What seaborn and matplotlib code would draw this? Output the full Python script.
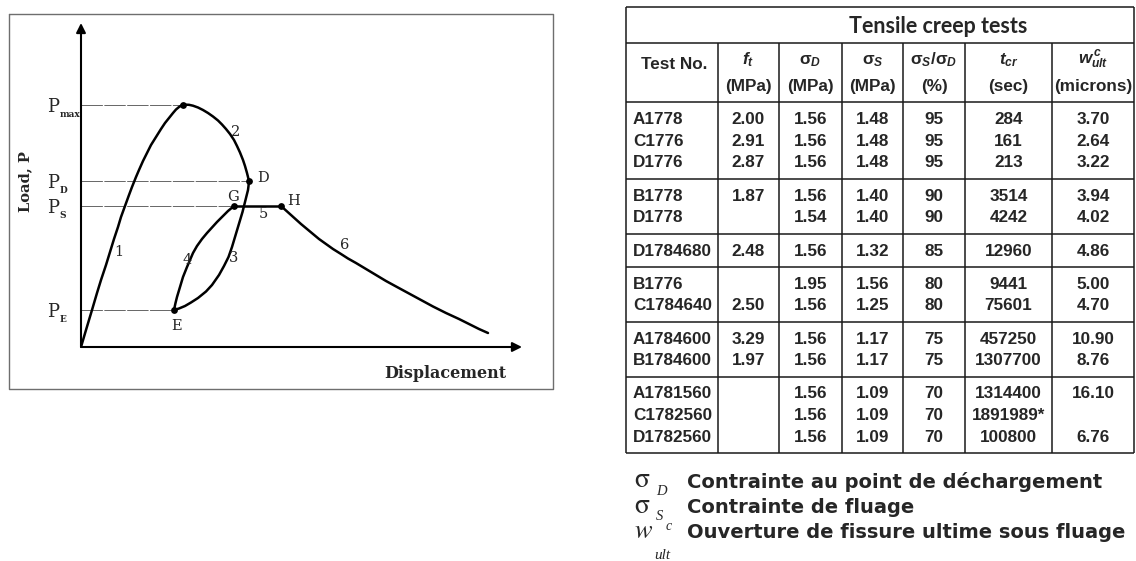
import matplotlib
matplotlib.use("Agg")
import matplotlib.pyplot as plt
import pandas as pd
import seaborn as sns

# ---------------- load-displacement schematic (arbitrary units) ----------------
# 1: loading up to the peak
seg1_x = [0, 5, 11, 16, 20, 25, 29, 33, 37, 40, 44, 48, 51, 55, 58, 62, 66, 70, 75,
          80, 84, 88, 92, 95, 98, 100, 102]
seg1_y = [0, 17, 37, 54, 67, 82, 95, 108, 120, 130, 141, 152, 160, 170, 177, 186, 194,
          202, 210, 218, 224, 229, 234, 237.5, 240, 241.3, 242]
# 2: post-peak softening down to D
seg2_x = [102, 105, 108, 112, 117, 122, 127, 132, 137, 141, 145, 149, 153, 156, 159,
          162, 164, 166, 167, 168]
seg2_y = [242, 242.3, 242.2, 241.3, 239.5, 237, 234, 230.5, 226.5, 222.5, 218, 213, 207,
          201, 194.5, 187, 181, 174, 170, 166]
# 3: unloading D -> E
seg3_x = [168, 167.5, 167, 166, 165, 164, 163, 161.5, 160, 158.5, 157, 154, 151, 147.5,
          143, 138, 131, 125, 117, 110, 104, 98, 93]
seg3_y = [166, 161, 157, 153, 149, 145, 141, 135, 130, 125, 120, 110, 100, 90, 81, 72,
          62, 55.5, 49, 44.5, 41, 38.5, 37]
# 4: reloading E -> G
seg4_x = [93, 94.5, 96, 99, 102, 106, 109, 112, 116, 121, 126, 131, 136, 141, 147, 153]
seg4_y = [37, 44, 50, 60, 70, 80, 87, 94, 101, 108, 114, 119.5, 125, 130, 136, 141]
# 5: creep at constant load G -> H
seg5_x = [153, 200]
seg5_y = [141, 141]
# 6: failure branch after H
seg6_x = [200, 205, 210, 215, 220, 226, 232, 238, 245, 252, 260, 267, 275, 285, 295,
          305, 316, 328, 340, 352, 365, 378, 390, 398, 407]
seg6_y = [141, 136.5, 132, 127.5, 123, 118, 113, 108, 103, 98, 93, 88.5, 84, 78, 72,
          66, 60, 53.5, 47, 40.5, 34, 28, 22, 18, 14]

# remarkable points: P_max, D, G, H, E
point_x = [102, 168, 153, 200, 93]
point_y = [242, 166, 141, 141, 37]
load_subs = ["max", "D", "S", "E"]
load_levels = [242, 166, 141, 37]
load_line_end = [102, 168, 153, 93]

# ---------------- tensile creep test table ----------------
test_no = ["A1778", "C1776", "D1776", "B1778", "D1778", "D1784680", "B1776",
           "C1784640", "A1784600", "B1784600", "A1781560", "C1782560", "D1782560"]
f_t = ["2.00", "2.91", "2.87", "1.87", "", "2.48", "", "2.50", "3.29", "1.97", "", "", ""]
sigma_d = ["1.56", "1.56", "1.56", "1.56", "1.54", "1.56", "1.95", "1.56", "1.56",
           "1.56", "1.56", "1.56", "1.56"]
sigma_s = ["1.48", "1.48", "1.48", "1.40", "1.40", "1.32", "1.56", "1.25", "1.17",
           "1.17", "1.09", "1.09", "1.09"]
ratio_pct = ["95", "95", "95", "90", "90", "85", "80", "80", "75", "75", "70", "70", "70"]
t_cr = ["284", "161", "213", "3514", "4242", "12960", "9441", "75601", "457250",
        "1307700", "1314400", "1891989*", "100800"]
w_ult = ["3.70", "2.64", "3.22", "3.94", "4.02", "4.86", "5.00", "4.70", "10.90",
         "8.76", "16.10", "", "6.76"]
group_sizes = [3, 2, 1, 2, 2, 3]

table_title = "Tensile creep tests"
header_top = ["Test No.", r"$f_t$", r"σ$_D$", r"σ$_S$", r"σ$_S$/σ$_D$", r"$t_{cr}$",
              r"$w^{\,c}_{ult}$"]
header_units = ["", "(MPa)", "(MPa)", "(MPa)", "(%)", "(sec)", "(microns)"]

legend_syms = [r"$\mathrm{\sigma}$", r"$\mathrm{\sigma}$", r"$w$"]
legend_subs = ["D", "S", "ult"]
legend_text = ["Contrainte au point de déchargement", "Contrainte de fluage",
               "Ouverture de fissure ultime sous fluage"]

# ---------------- styling ----------------
sns.set_style("white")
plt.rcParams["font.family"] = ["DejaVu Serif"]
plt.rcParams["mathtext.fontset"] = "custom"
plt.rcParams["mathtext.rm"] = "Liberation Sans:bold"
plt.rcParams["mathtext.bf"] = "Liberation Sans:bold"
plt.rcParams["mathtext.it"] = "Liberation Sans:italic:bold"

W, H = 1136, 561
fig = plt.figure(figsize=(W / 100, H / 100), dpi=100)
fig.patch.set_facecolor("white")

# overlay in pixel coordinates for frame, table and notes
ov = fig.add_axes([0, 0, 1, 1])
ov.set_xlim(0, W)
ov.set_ylim(H, 0)
ov.axis("off")

# frame around the schematic
ov.plot([9, 553, 553, 9, 9], [14, 14, 389, 389, 14], color="#6e6e6e", lw=1.0)

# schematic axes: origin at pixel (81, 347), one data unit per pixel
ax = fig.add_axes([81 / W, (H - 347) / H, 441 / W, 324 / H])
ax.set_xlim(0, 441)
ax.set_ylim(0, 324)
ax.set_facecolor("none")
ax.set_xticks([])
ax.set_yticks([])
sns.despine(ax=ax, left=True, bottom=True)

segments = [(seg1_x, seg1_y), (seg2_x, seg2_y), (seg3_x, seg3_y),
            (seg4_x, seg4_y), (seg5_x, seg5_y), (seg6_x, seg6_y)]
curve = pd.concat(
    [pd.DataFrame({"displacement": sx, "load": sy, "segment": k})
     for k, (sx, sy) in enumerate(segments, start=1)],
    ignore_index=True,
)

# reference load levels
ax.hlines(load_levels, 0, load_line_end, colors="#666666", lw=0.7,
          linestyles=(0, (22, 1.5)), zorder=1)

sns.lineplot(data=curve, x="displacement", y="load", units="segment", estimator=None,
             sort=False, color="black", lw=1.8, ax=ax, legend=False, zorder=3)
sns.scatterplot(x=point_x, y=point_y, color="black", s=24, linewidth=0, ax=ax, zorder=4)
ax.set_xlabel("")
ax.set_ylabel("")

# axis arrows
arrow = dict(arrowstyle="-|>", lw=1.5, color="black", mutation_scale=14, shrinkA=0, shrinkB=0)
ax.annotate("", xy=(0, 324), xytext=(0, 0), arrowprops=arrow, annotation_clip=False)
ax.annotate("", xy=(441, 0), xytext=(0, 0), arrowprops=arrow, annotation_clip=False)

for sub, lvl in zip(load_subs, load_levels):
    ax.text(-34, lvl - 7, "P", ha="left", va="baseline", fontsize=13, clip_on=False)
    ax.text(-21.5, lvl - 12, sub, ha="left", va="baseline", fontsize=6.5,
            fontweight="bold", clip_on=False)

seg_labels = {"1": (38, 95), "2": (155, 215), "3": (153, 89), "4": (106, 87),
              "5": (182, 133), "6": (264, 102), "D": (182, 169), "G": (152, 150),
              "H": (213, 146), "E": (96, 21)}
for txt, (lx, ly) in seg_labels.items():
    ax.text(lx, ly, txt, ha="center", va="center", fontsize=10.5, clip_on=False)

ax.text(-56, 165, "Load, P", rotation=90, ha="center", va="center",
        fontsize=10.5, fontweight="bold", clip_on=False)
ax.text(364, -26, "Displacement", ha="center", va="center",
        fontsize=11.5, fontweight="bold", clip_on=False)

# ---------------- table ----------------
line_kw = dict(color="#1a1a1a", lw=1.1, solid_capstyle="butt")
col_edges = [626, 718, 779, 842, 903, 965, 1052, 1134]
col_mid = [(a + b) / 2 for a, b in zip(col_edges[:-1], col_edges[1:])]
col_mid[0] = 674
y_title_top, y_title_bot, y_head_bot = 7, 43, 102
row_h, group_pad = 21.7, 11.5

group_tops = [y_head_bot]
for n in group_sizes:
    group_tops.append(group_tops[-1] + n * row_h + group_pad)
ov.plot([col_edges[0], col_edges[-1]], [y_title_top, y_title_top], **line_kw)
ov.plot([col_edges[0], col_edges[-1]], [y_title_bot, y_title_bot], **line_kw)
for yy in group_tops:
    ov.plot([col_edges[0], col_edges[-1]], [yy, yy], **line_kw)
ov.plot([col_edges[0], col_edges[0]], [y_title_top, group_tops[-1]], **line_kw)
ov.plot([col_edges[-1], col_edges[-1]], [y_title_top, group_tops[-1]], **line_kw)
for xx in col_edges[1:-1]:
    ov.plot([xx, xx], [y_title_bot, group_tops[-1]], **line_kw)

ov.text(938, 33, table_title, ha="center", va="baseline", fontsize=15.5,
        family=["Lato", "DejaVu Sans"], fontweight="bold")

body_font = dict(family=["Liberation Sans", "DejaVu Sans"], fontweight="bold", fontsize=12.3)
ov.text(col_mid[0], 69, header_top[0], ha="center", va="baseline", **body_font)
for c in range(1, 7):
    ov.text(col_mid[c], 64, header_top[c], ha="center", va="baseline",
            math_fontfamily="custom", **body_font)
    ov.text(col_mid[c], 91, header_units[c], ha="center", va="baseline", **body_font)

columns = [f_t, sigma_d, sigma_s, ratio_pct, t_cr, w_ult]
row = 0
for g, n in enumerate(group_sizes):
    for i in range(n):
        yb = group_tops[g] + 16 + i * row_h + 6
        ov.text(633, yb, test_no[row], ha="left", va="baseline", **body_font)
        for c, col in enumerate(columns, start=1):
            ov.text(col_mid[c], yb, col[row], ha="center", va="baseline", **body_font)
        row += 1

# ---------------- notes under the table ----------------
note_base = [488, 513, 538]
serif_it = dict(family=["Liberation Serif"], style="italic")
for k in range(3):
    yb = note_base[k]
    if k == 2:
        ov.text(634, yb, legend_syms[k], ha="left", va="baseline", fontsize=19,
                math_fontfamily="stix")
        ov.text(666, yb - 8, "c", ha="left", va="baseline", fontsize=10, **serif_it)
        ov.text(654, yb + 21, legend_subs[k], ha="left", va="baseline", fontsize=11,
                **serif_it)
    else:
        ov.text(634, yb - 1 + k, legend_syms[k], ha="left", va="baseline", fontsize=20,
                math_fontfamily="stix")
        ov.text(656, yb + 7, legend_subs[k], ha="left", va="baseline", fontsize=10.5,
                **serif_it)
    ov.text(687, yb, legend_text[k], ha="left", va="baseline", fontsize=14,
            family=["DejaVu Sans"], fontweight="bold")

fig.savefig("out.png", dpi=100, facecolor="white")
